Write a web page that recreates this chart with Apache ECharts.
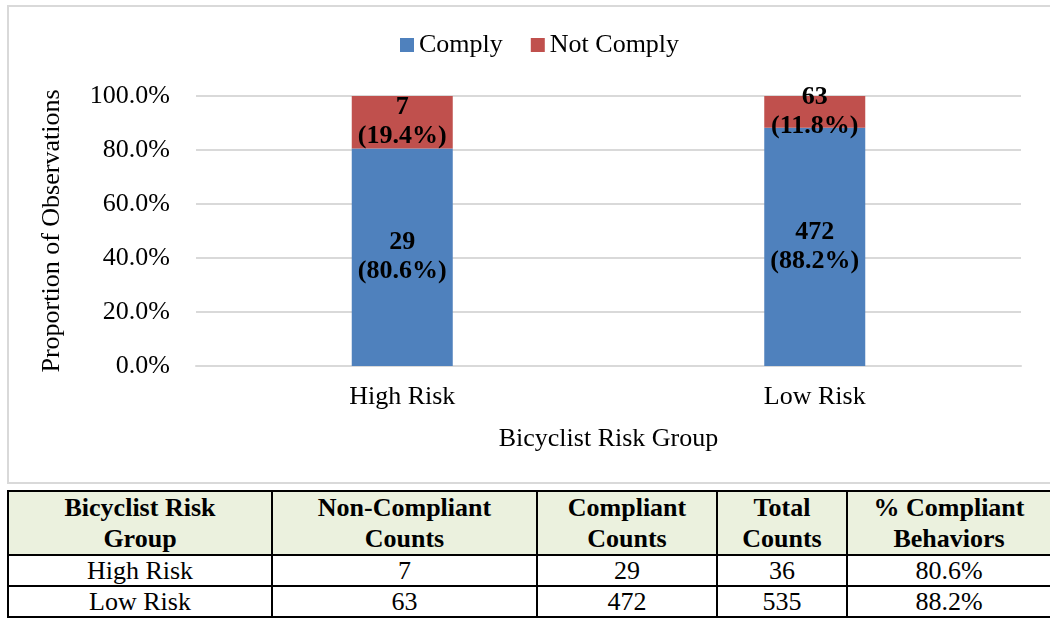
<!DOCTYPE html>
<html>
<head>
<meta charset="utf-8">
<script src="https://cdn.jsdelivr.net/npm/echarts@6/dist/echarts.min.js"></script>
<style>
  html, body { margin: 0; padding: 0; background: #fff; overflow: hidden; }
  #page { width: 1050px; height: 618px; position: relative; overflow: hidden;
          font-family: "Liberation Serif", "Times New Roman", serif; }
  #frame { position: absolute; left: 7px; top: 5px; width: 1060px; height: 479px;
           border: 2px solid #d9d9d9; box-sizing: border-box; }
  #chart { position: absolute; left: 0; top: 0; width: 1050px; height: 488px; }
  #tbl { position: absolute; left: 7px; top: 490px; border-collapse: collapse;
         table-layout: fixed; width: 1045px; }
  #tbl td, #tbl th { border: 2px solid #000; text-align: center; padding: 0;
                     font-size: 26px; color: #000; }
  #tbl th { background: #ebf1de; font-weight: bold; line-height: 31px; height: 62px; }
  #tbl td { line-height: 29px; height: 29px; }
</style>
</head>
<body>
<div id="page">
<div id="frame"></div>
<div id="chart"></div>
<table id="tbl"></table>
</div>
<script>
// data
const groups = ['High Risk', 'Low Risk'];
const complyCounts = [29, 472];
const notComplyCounts = [7, 63];
const complyPct = [80.6, 88.2];
const notComplyPct = [19.4, 11.8];
const totalCounts = [36, 535];
const yTicks = [0, 20, 40, 60, 80, 100];

const tableHead = ['Bicyclist Risk<br>Group', 'Non-Compliant<br>Counts', 'Compliant<br>Counts', 'Total<br>Counts', '% Compliant<br>Behaviors'];
const colWidths = [262, 263, 178, 128, 202];

const font = '"Liberation Serif", "Times New Roman", serif';

const chart = echarts.init(document.getElementById('chart'));

function labelFor(counts, pcts) {
  return {
    show: true,
    position: 'inside',
    fontFamily: font,
    fontSize: 26,
    fontWeight: 'bold',
    color: '#000',
    lineHeight: 29,
    formatter: p => counts[p.dataIndex] + '\n(' + pcts[p.dataIndex].toFixed(1) + '%)'
  };
}

chart.setOption({
  animation: false,
  textStyle: { fontFamily: font, color: '#000' },
  legend: {
    left: 395, top: 27,
    itemWidth: 14, itemHeight: 14, itemGap: 28,
    icon: 'rect',
    textStyle: { fontFamily: font, fontSize: 26, color: '#000' },
    data: ['Comply', 'Not Comply']
  },
  grid: { left: 196, right: 29, top: 96, bottom: 122 },
  xAxis: {
    type: 'category',
    data: groups,
    name: 'Bicyclist Risk Group',
    nameLocation: 'middle',
    nameGap: 60,
    nameTextStyle: { fontFamily: font, fontSize: 26, color: '#000' },
    axisLine: { lineStyle: { color: '#d9d9d9', width: 2 } },
    axisTick: { show: false },
    axisLabel: { fontFamily: font, fontSize: 26, color: '#000', margin: 18 }
  },
  yAxis: {
    type: 'value',
    min: yTicks[0], max: yTicks[yTicks.length - 1], interval: 20,
    name: 'Proportion of Observations',
    nameLocation: 'middle',
    nameGap: 131,
    nameTextStyle: { fontFamily: font, fontSize: 26, color: '#000' },
    axisLine: { show: false },
    axisTick: { show: false },
    splitLine: { lineStyle: { color: '#d9d9d9', width: 2 } },
    axisLabel: { fontFamily: font, fontSize: 26, color: '#000', margin: 26,
                 formatter: v => v.toFixed(1) + '%' }
  },
  series: [
    {
      name: 'Comply', type: 'bar', stack: 'all', barWidth: 101,
      itemStyle: { color: '#4f81bd' },
      label: labelFor(complyCounts, complyPct),
      data: complyPct
    },
    {
      name: 'Not Comply', type: 'bar', stack: 'all', barWidth: 101,
      itemStyle: { color: '#c0504d' },
      label: labelFor(notComplyCounts, notComplyPct),
      data: notComplyPct
    }
  ]
});

// table below the chart
const tbl = document.getElementById('tbl');
let html = '<tr>' + tableHead.map((h, i) => '<th style="width:' + colWidths[i] + 'px">' + h + '</th>').join('') + '</tr>';
groups.forEach((g, i) => {
  const row = [g, notComplyCounts[i], complyCounts[i], totalCounts[i], complyPct[i].toFixed(1) + '%'];
  html += '<tr>' + row.map(c => '<td>' + c + '</td>').join('') + '</tr>';
});
tbl.innerHTML = html;
</script>
</body>
</html>
